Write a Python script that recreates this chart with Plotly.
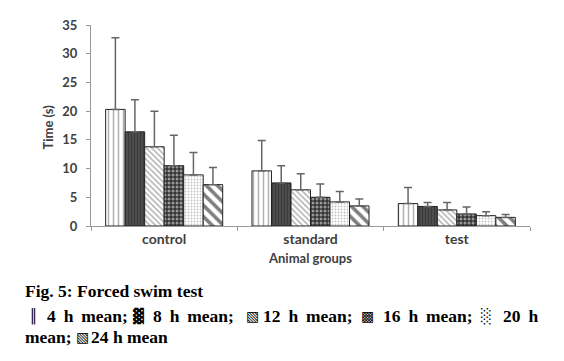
import plotly.graph_objects as go

groups = ["control", "standard", "test"]
series_names = ["4 h mean", "8 h mean", "12 h mean", "16 h mean", "20 h mean", "24 h mean"]
means = [
    [20.3, 9.6, 3.9],
    [16.4, 7.5, 3.4],
    [13.8, 6.3, 2.8],
    [10.5, 5.0, 2.1],
    [8.9, 4.2, 1.8],
    [7.2, 3.5, 1.5],
]
errors = [
    [12.5, 5.3, 2.8],
    [5.6, 3.0, 0.7],
    [6.2, 2.8, 1.3],
    [5.3, 2.3, 1.2],
    [3.9, 1.8, 0.7],
    [3.0, 1.2, 0.5],
]
patterns = [
    dict(shape="|", size=5, solidity=0.3, fgcolor="#666", bgcolor="white"),
    dict(shape="|", size=3, solidity=0.4, fgcolor="#222", bgcolor="#505050"),
    dict(shape="\\", size=4, solidity=0.35, fgcolor="#555", bgcolor="white"),
    dict(shape=".", size=4, solidity=0.45, fgcolor="white", bgcolor="#333"),
    dict(shape=".", size=3, solidity=0.3, fgcolor="#888", bgcolor="white"),
    dict(shape="\\", size=8, solidity=0.45, fgcolor="#000", bgcolor="white"),
]

fig = go.Figure()
for name, m, e, p in zip(series_names, means, errors, patterns):
    fig.add_trace(go.Bar(
        x=groups, y=m, name=name,
        marker=dict(color="white", line=dict(color="#222", width=1), pattern=p),
        error_y=dict(type="data", array=e, symmetric=False, arrayminus=[0]*len(e),
                     color="#666", thickness=1.5, width=4),
    ))

tick_font = dict(family="Lato, Open Sans, sans-serif", size=13, color="#404040", weight="bold")
title_font = dict(family="Lato, Open Sans, sans-serif", size=13, color="#404040", weight="bold")
# page body has an 8px default margin, so the figure is sized and offset to compensate
fig.update_layout(
    width=556, height=353,
    margin=dict(l=83, r=34, t=17, b=135, autoexpand=False),
    paper_bgcolor="white", plot_bgcolor="white",
    barmode="group", bargap=0.2, bargroupgap=0,
    showlegend=False,
    xaxis=dict(showline=True, linecolor="#999", linewidth=1, ticks="outside", tickson="boundaries",
               ticklen=4, tickcolor="#999", showgrid=False, automargin=False,
               tickfont=dict(tick_font, size=14),
               title=dict(text="Animal groups", font=title_font, standoff=8)),
    yaxis=dict(range=[0, 35], dtick=5, showline=True, linecolor="#999", linewidth=1,
               ticks="outside", ticklen=4, tickcolor="#999", showgrid=False, zeroline=False,
               automargin=False, tickfont=tick_font, ticklabelstandoff=6),
)

def px2paper(px):
    return (px - 91) / 439

fig.add_annotation(xref="paper", yref="paper", x=px2paper(48), y=0.49, xanchor="center", yanchor="middle",
                   text="Time (s)", textangle=-90, showarrow=False, font=title_font)

S = " \u2009"
cap_font = dict(family="Liberation Serif, Times New Roman, serif", size=17.5, color="black")
sym_font = dict(family="DejaVu Sans, sans-serif", size=14, color="black")

fig.add_annotation(xref="paper", yref="paper", x=px2paper(23), y=-0.323, xanchor="left", yanchor="middle",
                   text="<b>Fig. 5: Forced swim test</b>", showarrow=False, font=cap_font, align="left")

line2 = [(27, "║", True), (45, "4" + S + "h" + S + "mean;", False), (131, "▓", True),
         (151, "8" + S + "h" + S + "mean;", False), (244, "▧", True), (261, "12" + S + "h" + S + "mean;", False),
         (359, "▩", True), (381, "16" + S + "h" + S + "mean;", False), (479, "░", True), (501, "20" + S + "h", False)]
for px, txt, sym in line2:
    fig.add_annotation(xref="paper", yref="paper", x=px2paper(px), y=-0.448, xanchor="left", yanchor="middle",
                       text=txt if sym else "<b>" + txt + "</b>", showarrow=False,
                       font=sym_font if sym else cap_font, align="left")

line3 = [(23, "mean;", False), (74, "▧", True), (89, "24 h mean", False)]
for px, txt, sym in line3:
    fig.add_annotation(xref="paper", yref="paper", x=px2paper(px), y=-0.552, xanchor="left", yanchor="middle",
                       text=txt if sym else "<b>" + txt + "</b>", showarrow=False,
                       font=sym_font if sym else cap_font, align="left")

fig.write_html("out.html")
